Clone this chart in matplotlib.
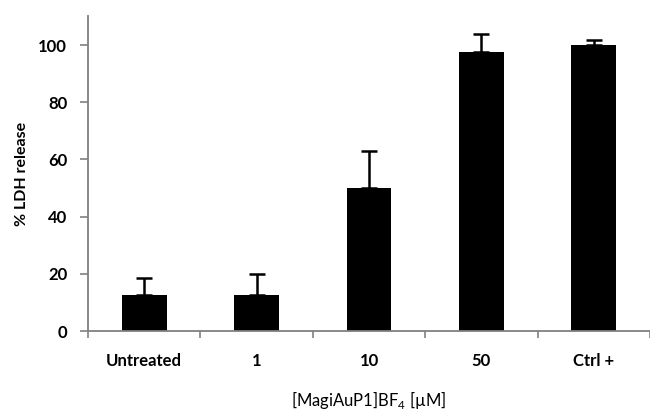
import matplotlib.pyplot as plt
import numpy as np

# data
CATEGORIES = ["Untreated", "1", "10", "50", "Ctrl +"]
LDH_RELEASE = [12.5, 12.5, 50, 97.5, 100]
ERR_UP = [6, 7.5, 13, 6.5, 1.8]

plt.rcParams['font.family'] = ['Lato', 'DejaVu Sans']
plt.rcParams['mathtext.fontset'] = 'custom'
plt.rcParams['mathtext.rm'] = 'Lato'

fig = plt.figure(figsize=(6.5, 4.18), dpi=100)
ax = fig.add_axes([0.1354, 0.2081, 0.8646, 0.7526])

x = np.arange(len(CATEGORIES))
lower = np.zeros(len(ERR_UP))
ax.bar(x, LDH_RELEASE, width=0.4, color='black',
       yerr=[lower, ERR_UP], capsize=5.5,
       error_kw=dict(elinewidth=1.8, capthick=1.8, ecolor='black'))

ax.set_xlim(-0.5, len(CATEGORIES) - 0.5)
ax.set_ylim(0, 110)
ax.set_yticks(range(0, 101, 20))

# category ticks without marks, small marks between categories
ax.set_xticks(x)
ax.set_xticklabels(CATEGORIES, fontsize=12, fontweight='bold')
ax.tick_params(axis='x', which='major', length=0, pad=16)
ax.set_xticks(np.arange(-0.5, len(CATEGORIES), 1), minor=True)
ax.tick_params(axis='x', which='minor', length=5, color='#808080', width=1.2)
ax.tick_params(axis='y', length=6, color='#808080', width=1.2, labelsize=12, pad=9)
for lab in ax.get_yticklabels():
    lab.set_fontweight('bold')

for side in ['top', 'right']:
    ax.spines[side].set_visible(False)
for side in ['left', 'bottom']:
    ax.spines[side].set_color('#808080')
    ax.spines[side].set_linewidth(1.3)

ax.set_ylabel("% LDH release", fontsize=11.5, fontweight='bold', labelpad=7)
ax.set_xlabel("[MagiAuP1]BF$_\\mathrm{4}$ [µM]", fontsize=12, labelpad=14)

plt.savefig("out.png", dpi=100)
